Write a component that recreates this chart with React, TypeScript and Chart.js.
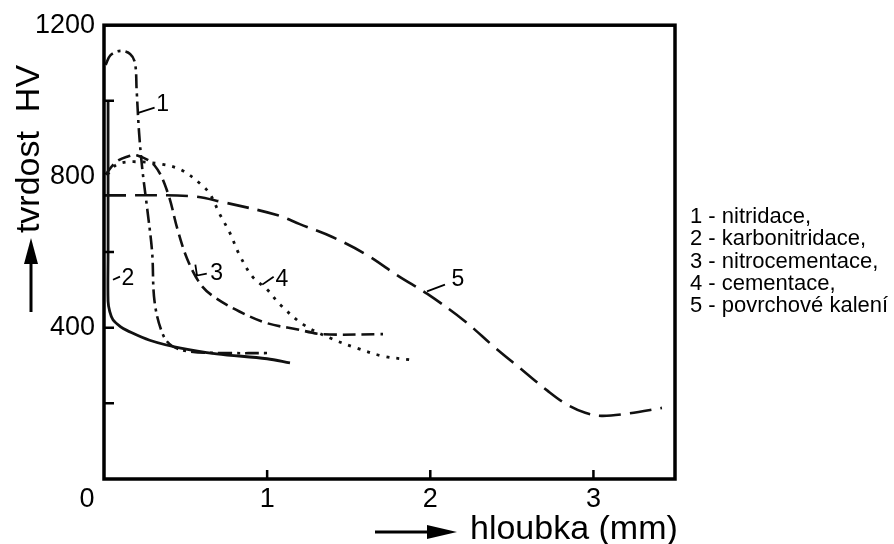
import React, { useEffect, useRef } from "react";
import { Chart, registerables } from "chart.js";

Chart.register(...registerables);

// ---- data (depth in mm, hardness HV) ----
const nitridaceX = [0.01, 0.04, 0.10, 0.16, 0.19, 0.20, 0.215, 0.235, 0.265, 0.295, 0.31, 0.36, 0.42, 0.53, 0.77, 1.0];
const nitridaceY = [1095, 1121, 1132, 1124, 1100, 1029, 916, 819, 714, 600, 469, 383, 351, 337, 333, 333];

const karbonitridaceX = [0.025, 0.025, 0.025, 0.035, 0.055, 0.10, 0.14, 0.28, 0.47, 0.69, 1.0, 1.14];
const karbonitridaceY = [1000, 600, 470, 443, 421, 403, 393, 367, 346, 331, 318, 307];

const nitrocementaceX = [0.01, 0.07, 0.14, 0.20, 0.31, 0.39, 0.45, 0.51, 0.59, 0.67, 0.83, 1.0, 1.18, 1.34, 1.71];
const nitrocementaceY = [805, 837, 852, 856, 829, 758, 661, 582, 516, 483, 443, 412, 396, 383, 383];

const cementaceX = [0.02, 0.08, 0.18, 0.36, 0.48, 0.60, 0.65, 0.71, 0.77, 0.83, 0.91, 1.0, 1.08, 1.22, 1.39, 1.55, 1.71, 1.88];
const cementaceY = [805, 832, 839, 832, 816, 777, 753, 700, 652, 593, 535, 501, 461, 409, 372, 346, 325, 315];

const kaleniX = [0.0, 0.53, 0.73, 1.06, 1.20, 1.40, 1.61, 1.81, 1.98, 2.21, 2.39, 2.55, 2.72, 2.83, 2.95, 3.05, 3.21, 3.42];
const kaleniY = [750, 748, 732, 698, 674, 640, 593, 535, 490, 418, 350, 293, 233, 199, 175, 167, 173, 188];

const xTickLabels = [1, 2, 3];
const yTickLabels = [400, 800, 1200];
const xTickMarks = [1, 2, 3];
const yTickMarks = [200, 400, 600, 1000];

const legendLines = [
  "1 - nitridace,",
  "2 - karbonitridace,",
  "3 - nitrocementace,",
  "4 - cementace,",
  "5 - povrchové kalení",
];

// curve labels: [text, x, y] and leader polylines in data coords
const curveLabels: [string, number, number][] = [
  ["1", 0.36, 990],
  ["2", 0.147, 530],
  ["3", 0.69, 543],
  ["4", 1.09, 527],
  ["5", 2.17, 527],
];
const leaderXs = [[0.21, 0.31], [0.055, 0.098], [0.56, 0.57, 0.63], [0.97, 1.04], [1.98, 2.09]];
const leaderYs = [[968, 982], [527, 535], [567, 538, 543], [514, 535], [496, 514]];

const toPoints = (xs: number[], ys: number[]) => xs.map((x, i) => ({ x, y: ys[i] }));

const FONT = "'Liberation Sans', Arial, Helvetica, sans-serif";

const decorPlugin = {
  id: "decor",
  afterDraw(chart: any) {
    const { ctx, chartArea: a, scales } = chart;
    const xs = scales.x;
    const ys = scales.y;
    ctx.save();
    ctx.strokeStyle = "#000";
    ctx.fillStyle = "#000";
    // frame
    ctx.lineWidth = 3.5;
    ctx.strokeRect(a.left, a.top, a.right - a.left, a.bottom - a.top);
    // inside tick marks
    ctx.lineWidth = 2.5;
    ctx.beginPath();
    for (const v of yTickMarks) {
      const py = ys.getPixelForValue(v);
      ctx.moveTo(a.left, py);
      ctx.lineTo(a.left + 10, py);
    }
    for (const v of xTickMarks) {
      const px = xs.getPixelForValue(v);
      ctx.moveTo(px, a.bottom);
      ctx.lineTo(px, a.bottom - 9);
    }
    ctx.stroke();

    // "0" label at origin
    ctx.font = `27px ${FONT}`;
    ctx.textAlign = "center";
    ctx.textBaseline = "middle";
    ctx.fillText("0", a.left - 17, a.bottom + 21);

    // curve labels + leaders
    ctx.lineWidth = 1.8;
    leaderXs.forEach((lx, i) => {
      ctx.beginPath();
      lx.forEach((vx, j) => {
        const px = xs.getPixelForValue(vx);
        const py = ys.getPixelForValue(leaderYs[i][j]);
        if (j === 0) ctx.moveTo(px, py);
        else ctx.lineTo(px, py);
      });
      ctx.stroke();
    });
    ctx.font = `23px ${FONT}`;
    for (const [t, vx, vy] of curveLabels) {
      ctx.fillText(t, xs.getPixelForValue(vx), ys.getPixelForValue(vy));
    }

    // legend text
    ctx.font = `22px ${FONT}`;
    ctx.textAlign = "left";
    legendLines.forEach((t, i) => {
      ctx.fillText(t, 690, 217 + i * 22.3);
    });

    // x axis title + arrow
    ctx.font = `34px ${FONT}`;
    ctx.textAlign = "left";
    ctx.textBaseline = "alphabetic";
    ctx.fillText("hloubka (mm)", 470, 539);
    ctx.lineWidth = 3;
    ctx.beginPath();
    ctx.moveTo(375, 532);
    ctx.lineTo(432, 532);
    ctx.stroke();
    ctx.beginPath();
    ctx.moveTo(457, 532);
    ctx.lineTo(427, 525);
    ctx.lineTo(427, 539);
    ctx.closePath();
    ctx.fill();

    // y axis title + arrow
    ctx.save();
    ctx.translate(39, 149);
    ctx.rotate(-Math.PI / 2);
    ctx.textAlign = "center";
    ctx.fillText("tvrdost  HV", 0, 0);
    ctx.restore();
    ctx.beginPath();
    ctx.moveTo(31, 312);
    ctx.lineTo(31, 258);
    ctx.stroke();
    ctx.beginPath();
    ctx.moveTo(31, 238);
    ctx.lineTo(24, 264);
    ctx.lineTo(38, 264);
    ctx.closePath();
    ctx.fill();
    ctx.restore();
  },
};

export default function App() {
  const ref = useRef<HTMLCanvasElement | null>(null);

  useEffect(() => {
    if (!ref.current) return;
    const common = {
      showLine: true,
      pointRadius: 0,
      borderColor: "#111",
      backgroundColor: "#111",
      fill: false,
      tension: 0.35,
    };
    const chart = new Chart(ref.current, {
      type: "scatter",
      data: {
        datasets: [
          { ...common, label: "1 - nitridace", data: toPoints(nitridaceX, nitridaceY), borderWidth: 2.6, borderDash: [14, 5, 3, 5] },
          { ...common, label: "2 - karbonitridace", data: toPoints(karbonitridaceX, karbonitridaceY), borderWidth: 2.8 },
          { ...common, label: "3 - nitrocementace", data: toPoints(nitrocementaceX, nitrocementaceY), borderWidth: 2.6, borderDash: [13, 6] },
          { ...common, label: "4 - cementace", data: toPoints(cementaceX, cementaceY), borderWidth: 2.8, borderDash: [3, 7] },
          { ...common, label: "5 - povrchové kalení", data: toPoints(kaleniX, kaleniY), borderWidth: 2.6, borderDash: [22, 9] },
        ],
      },
      options: {
        animation: false,
        responsive: false,
        devicePixelRatio: 1,
        layout: { padding: { top: 22, right: 219, left: 0, bottom: 0 } },
        plugins: { legend: { display: false }, tooltip: { enabled: false } },
        scales: {
          x: {
            type: "linear",
            min: 0,
            max: 3.5,
            grid: { display: false, drawTicks: false },
            border: { display: false },
            ticks: {
              stepSize: 1,
              autoSkip: false,
              maxRotation: 0,
              padding: 4,
              color: "#000",
              font: { family: FONT, size: 27 },
              callback: (v: any) => (xTickLabels.includes(Number(v)) ? String(v) : ""),
            },
            afterFit: (s: any) => {
              s.height = 65;
            },
          },
          y: {
            type: "linear",
            min: 0,
            max: 1200,
            grid: { display: false, drawTicks: false },
            border: { display: false },
            ticks: {
              stepSize: 200,
              autoSkip: false,
              padding: 9,
              color: "#000",
              font: { family: FONT, size: 27 },
              callback: (v: any) => (yTickLabels.includes(Number(v)) ? String(v) : ""),
            },
            afterFit: (s: any) => {
              s.width = 104;
            },
          },
        },
      },
      plugins: [decorPlugin],
    } as any);
    return () => chart.destroy();
  }, []);

  return (
    <div style={{ position: "absolute", left: 0, top: 0, width: 894, height: 544, background: "#fff" }}>
      <canvas ref={ref} width={894} height={544} style={{ display: "block" }} />
    </div>
  );
}
